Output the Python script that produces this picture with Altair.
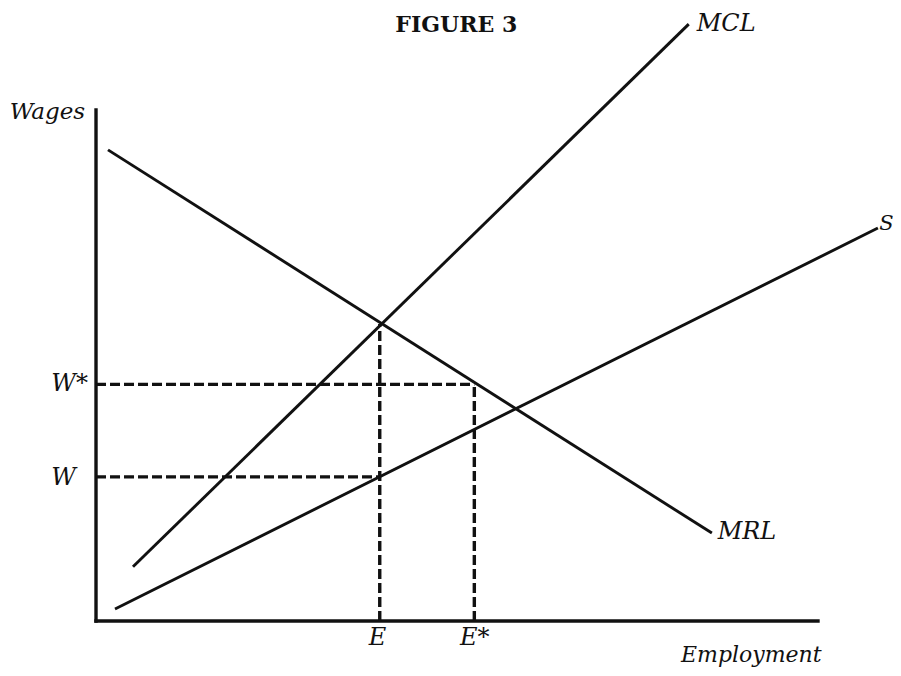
import altair as alt
import pandas as pd

# ---- data ----
curve_names = ["MRL", "MCL", "S"]
curve_x0 = [1.66, 5.12, 2.63]
curve_y0 = [92.2, 10.6, 2.35]
curve_x1 = [85.3, 82.1, 108.3]
curve_y1 = [17.2, 116.8, 76.9]

emp_labels = ["E", "E*"]
emp_values = [39.3, 52.4]
emp_tops = [58.1, 46.3]

wage_labels = ["W", "W*"]
wage_values = [28.2, 46.3]
wage_rights = [39.3, 52.4]

axis_max_x = 100
axis_max_y = 100

# label positions (data units)
left_text = ["MCL", "MRL", "W", "W*", "E*"]
left_x = [83.2, 86.1, -6.2, -6.2, 50.4]
left_y = [116.8, 17.4, 28.0, 46.3, -3.3]
s_text = ["S"]
s_x = [108.5]
s_y = [77.6]
right_text = ["Wages"]
right_x = [-1.5]
right_y = [99.6]
emp_axis_text = ["Employment"]
emp_axis_x = [100.5]
emp_axis_y = [-8.0]
center_text = ["FIGURE 3", "E"]
center_x = [49.9, 39.0]
center_y = [116.6, -3.3]

X_DOMAIN = [-12.19, 110.39]
Y_DOMAIN = [-9.20, 119.96]

xs = alt.Scale(domain=X_DOMAIN, nice=False, zero=False)
ys = alt.Scale(domain=Y_DOMAIN, nice=False, zero=False)

def X(f):
    return alt.X(f"{f}:Q", scale=xs, axis=None)

def Y(f):
    return alt.Y(f"{f}:Q", scale=ys, axis=None)

curves = pd.DataFrame({"name": curve_names, "x": curve_x0, "y": curve_y0,
                       "x2": curve_x1, "y2": curve_y1})
axes = pd.DataFrame({"x": [0, 0], "y": [0, 0], "x2": [axis_max_x, 0], "y2": [0, axis_max_y]})
vdash = pd.DataFrame({"x": emp_values, "y": [0, 0], "x2": emp_values, "y2": emp_tops})
hdash = pd.DataFrame({"x": [0, 0], "y": wage_values, "x2": wage_rights, "y2": wage_values})

BLACK = "#111111"

axis_layer = alt.Chart(axes).mark_rule(color=BLACK, strokeWidth=3.4, strokeCap="square").encode(
    x=X("x"), y=Y("y"), x2="x2:Q", y2="y2:Q")
curve_layer = alt.Chart(curves).mark_rule(color=BLACK, strokeWidth=2.9).encode(
    x=X("x"), y=Y("y"), x2="x2:Q", y2="y2:Q")
vdash_layer = alt.Chart(vdash).mark_rule(color=BLACK, strokeWidth=3.4, strokeDash=[10, 4]).encode(
    x=X("x"), y=Y("y"), x2="x2:Q", y2="y2:Q")
hdash_layer = alt.Chart(hdash).mark_rule(color=BLACK, strokeWidth=3.4, strokeDash=[10, 4]).encode(
    x=X("x"), y=Y("y"), x2="x2:Q", y2="y2:Q")

FONT = "DejaVu Serif"

def text_layer(texts, txs, tys, align, italic=True, size=24, bold=False, baseline="middle"):
    df = pd.DataFrame({"t": texts, "x": txs, "y": tys})
    return alt.Chart(df).mark_text(
        align=align, baseline=baseline, font=FONT, fontSize=size,
        fontStyle="italic" if italic else "normal",
        fontWeight="bold" if bold else "normal", color=BLACK
    ).encode(x=X("x"), y=Y("y"), text="t:N")

left_labels = text_layer(left_text, left_x, left_y, "left")
s_label = text_layer(s_text, s_x, s_y, "left", size=21)
right_labels = text_layer(right_text, right_x, right_y, "right", size=23)
emp_axis_label = text_layer(emp_axis_text, emp_axis_x, emp_axis_y, "right", size=22,
                            baseline="alphabetic")
e_label = text_layer(center_text[1:], center_x[1:], center_y[1:], "center")
title_label = text_layer(center_text[:1], center_x[:1], center_y[:1], "center",
                         italic=False, size=22, bold=True)

chart = alt.layer(
    axis_layer, curve_layer, vdash_layer, hdash_layer,
    left_labels, s_label, right_labels, emp_axis_label, e_label, title_label
).properties(
    width=885, height=660, padding=0,
    autosize=alt.AutoSizeParams(type="none"),
    background="white"
).configure_view(stroke=None)

chart.save("out.html", embed_options={"renderer": "svg", "actions": False})
